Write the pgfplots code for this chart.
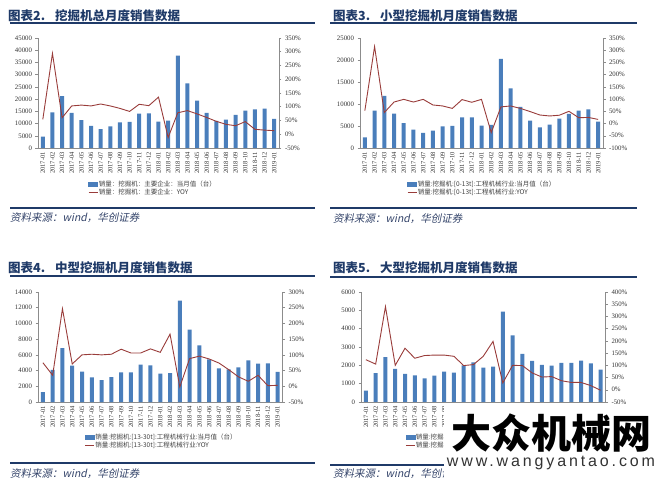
\documentclass[border=0pt]{standalone}
\usepackage{pgfplots}
\pgfplotsset{compat=1.18}
\usepackage{pgfplotstable}
\usepackage{fontspec}
\setmainfont{Liberation Serif}
\newfontfamily\cjk{Noto Sans CJK SC}
\newfontfamily\cjksl[FakeSlant=0.2]{Noto Sans CJK SC}
\newfontfamily\wmfont[LetterSpace=18]{Liberation Sans}
\definecolor{barB}{HTML}{4A7EBB}
\definecolor{lineR}{HTML}{993C3A}
\definecolor{navy}{HTML}{1F3A68}
\definecolor{axG}{HTML}{8C8C8C}
\definecolor{srcC}{HTML}{34446A}

% total excavators
\pgfplotstableread{
i bar yoy
0 4640 54
1 14590 294
2 21270 60
3 14320 103
4 11450 106
5 9000 103
6 7770 110
7 8860 103
8 10500 94
9 10640 83
10 14050 109
11 14180 104
12 10770 135
13 11180 -12
14 37780 78
15 26460 86
16 19370 74
17 14320 61
18 11050 47
19 11590 36
20 13500 31
21 15270 46
22 15820 18
23 16090 15
24 11870 13
}\tabA
% small, 0-13t
\pgfplotstableread{
i bar yoy
0 2420 53
1 8485 315
2 11820 45
3 7800 88
4 5680 99
5 4170 88
6 3410 99
7 3940 76
8 4920 72
9 5000 62
10 6970 98
11 6970 87
12 5080 99
13 5230 -37
14 20230 68
15 13560 72
16 9320 62
17 6210 49
18 4700 35
19 5300 31
20 6670 34
21 7730 50
22 8485 24
23 8790 25
24 5985 17
}\tabB
% medium, 13-30t
\pgfplotstableread{
i bar yoy
0 1270 75
1 4100 35
2 6870 247
3 4620 71
4 3860 100
5 3140 102
6 2800 100
7 3180 102
8 3780 118
9 3780 106
10 4750 106
11 4670 119
12 3600 108
13 3690 166
14 12900 -2
15 9200 88
16 7210 96
17 5430 87
18 4280 74
19 4160 53
20 4410 30
21 5300 16
22 4880 35
23 4920 2
24 3820 3
}\tabC
% large, 30t+
\pgfplotstableread{
i bar yoy
0 620 123
1 1580 105
2 2450 340
3 1800 100
4 1530 170
5 1450 129
6 1290 140
7 1440 142
8 1650 142
9 1600 137
10 2000 99
11 2160 103
12 1870 137
13 1930 198
14 4930 28
15 3640 100
16 2620 99
17 2240 69
18 2020 52
19 1980 54
20 2130 37
21 2130 30
22 2250 30
23 2110 17
24 1760 -2
}\tabD

\pgfplotsset{
  panel/.style={scale only axis, height=110pt, xmin=-0.5, xmax=24.5,
    anchor=north west, axis line style={axG, line width=0.5pt},
    tick style={axG, line width=0.5pt}, major tick length=2.5pt,
    tick align=outside,
    tick label style={font=\fontsize{6.8}{7}\selectfont, text=black!80},
    /pgf/number format/assume math mode=true,
    /pgf/number format/1000 sep={}, scaled y ticks=false},
  barpanel/.style={panel, axis y line*=left, axis x line*=bottom, ymin=0,
    xtick={0,...,24}, xtick style={draw=none},
    xticklabels={2017-01,2017-02,2017-03,2017-04,2017-05,2017-06,2017-07,
      2017-08,2017-09,2017-10,2017-11,2017-12,2018-01,2018-02,2018-03,
      2018-04,2018-05,2018-06,2018-07,2018-08,2018-09,2018-10,2018-11,
      2018-12,2019-01},
    xticklabel style={rotate=90, anchor=east, inner sep=1.5pt,
      font=\fontsize{6.5}{7}\selectfont}},
  linepanel/.style={panel, axis y line*=right, axis x line=none,
    ytick distance=50, yticklabel={\pgfmathprintnumber{\tick}\%},
    legend cell align=left,
    legend style={draw=none, fill=none, anchor=north west,
      font=\cjk\fontsize{6.5}{7}\selectfont, inner sep=0pt, row sep=0pt,
      text=black!75, nodes={inner sep=0.6pt}}},
  barleg/.style={legend image code/.code={\fill[barB] (0pt,-2.2pt) rectangle (9pt,2.2pt);}},
  lineleg/.style={legend image code/.code={\draw[lineR,line width=1.1pt] (0pt,0pt) -- (9pt,0pt);}},
}

\begin{document}
\begin{tikzpicture}
\begin{scope}[x=1pt,y=1pt]
\useasboundingbox (0,0) rectangle (659,-484);
% titles, rules, sources
\foreach \px/\py/\t in {8/16/{图表2.\hspace{10pt}挖掘机总月度销售数据},
    333/16/{图表3.\hspace{10pt}小型挖掘机月度销售数据},
    8/268/{图表4.\hspace{10pt}中型挖掘机月度销售数据},
    333/268/{图表5.\hspace{10pt}大型挖掘机月度销售数据}}
  \node[anchor=west, font=\cjk\bfseries\fontsize{12.5}{13}\selectfont, text=navy, inner sep=0]
    at (\px,-\py) {\t};
\draw[navy, line width=1.6pt] (10,-23) -- (315,-23);
\draw[navy, line width=1.6pt] (330,-23) -- (637,-23);
\draw[navy, line width=1.6pt] (10,-276) -- (315,-276);
\draw[navy, line width=1.6pt] (330,-277) -- (637,-277);
\draw[navy, line width=2.6pt] (10,-208) -- (315,-208);
\draw[navy, line width=2.6pt] (330,-208) -- (637,-208);
\draw[navy, line width=2.6pt] (10,-463) -- (315,-463);
\draw[navy, line width=2.6pt] (330,-465) -- (637,-465);
\foreach \px/\py in {10/218, 333/219, 10/474, 333/474}
  \node[anchor=west, font=\cjksl\fontsize{10.5}{11}\selectfont, text=srcC, inner sep=0]
    at (\px,-\py) {资料来源：wind，华创证券};
\end{scope}

% ---------- panel 1 ----------
\begin{axis}[barpanel, at={(38pt,-38pt)}, width=241pt, ymax=45000, ytick distance=5000]
\addplot[ybar, bar width=4pt, bar shift=0pt, fill=barB, draw=none] table[x=i,y=bar]{\tabA};
\end{axis}
\begin{axis}[linepanel, at={(38pt,-38pt)}, width=241pt, ymin=-50, ymax=350,
  legend style={at={(0.207,-0.29)}}]
\addlegendimage{barleg}
\addlegendentry{销量：挖掘机：主要企业：当月值（台）}
\addplot[lineR, line width=0.9pt, lineleg] table[x=i,y=yoy]{\tabA};
\addlegendentry{销量：挖掘机：主要企业：YOY}
\end{axis}

% ---------- panel 2 ----------
\begin{axis}[barpanel, at={(360pt,-38pt)}, width=243pt, ymax=25000, ytick distance=5000]
\addplot[ybar, bar width=4pt, bar shift=0pt, fill=barB, draw=none] table[x=i,y=bar]{\tabB};
\end{axis}
\begin{axis}[linepanel, at={(360pt,-38pt)}, width=243pt, ymin=-100, ymax=350,
  legend style={at={(0.193,-0.29)}}]
\addlegendimage{barleg}
\addlegendentry{销量:挖掘机:[0-13t]:工程机械行业:当月值（台）}
\addplot[lineR, line width=0.9pt, lineleg] table[x=i,y=yoy]{\tabB};
\addlegendentry{销量:挖掘机:[0-13t]:工程机械行业:YOY}
\end{axis}

% ---------- panel 3 ----------
\begin{axis}[barpanel, at={(38pt,-292pt)}, width=244.5pt, ymax=14000, ytick distance=2000]
\addplot[ybar, bar width=4pt, bar shift=0pt, fill=barB, draw=none] table[x=i,y=bar]{\tabC};
\end{axis}
\begin{axis}[linepanel, at={(38pt,-292pt)}, width=244.5pt, ymin=-50, ymax=300,
  legend style={at={(0.19,-0.28)}}]
\addlegendimage{barleg}
\addlegendentry{销量:挖掘机:[13-30t]:工程机械行业:当月值（台）}
\addplot[lineR, line width=0.9pt, lineleg] table[x=i,y=yoy]{\tabC};
\addlegendentry{销量:挖掘机:[13-30t]:工程机械行业:YOY}
\end{axis}

% ---------- panel 4 ----------
\begin{axis}[barpanel, at={(361pt,-292pt)}, width=244.5pt, ymax=6000, ytick distance=1000]
\addplot[ybar, bar width=4pt, bar shift=0pt, fill=barB, draw=none] table[x=i,y=bar]{\tabD};
\end{axis}
\begin{axis}[linepanel, at={(361pt,-292pt)}, width=244.5pt, ymin=-50, ymax=400,
  legend style={at={(0.18,-0.28)}}]
\addlegendimage{barleg}
\addlegendentry{销量:挖掘机:[30t以上]:工程机械行业:当月值（台）}
\addplot[lineR, line width=0.9pt, lineleg] table[x=i,y=yoy]{\tabD};
\addlegendentry{销量:挖掘机:[30t以上]:工程机械行业:YOY}
\end{axis}

% ---------- watermark ----------
\begin{scope}[x=1pt,y=1pt]
\fill[white] (444,-404) rectangle (659,-484);
\node[font=\cjk\bfseries\fontsize{40}{40}\selectfont, text=black, inner sep=0]
  at (551,-433) {大众机械网};
\node[font=\wmfont\fontsize{16}{16}\selectfont, text=black!80, inner sep=0]
  at (551,-463) {www.wangyantao.com};
\end{scope}
\end{tikzpicture}
\end{document}
